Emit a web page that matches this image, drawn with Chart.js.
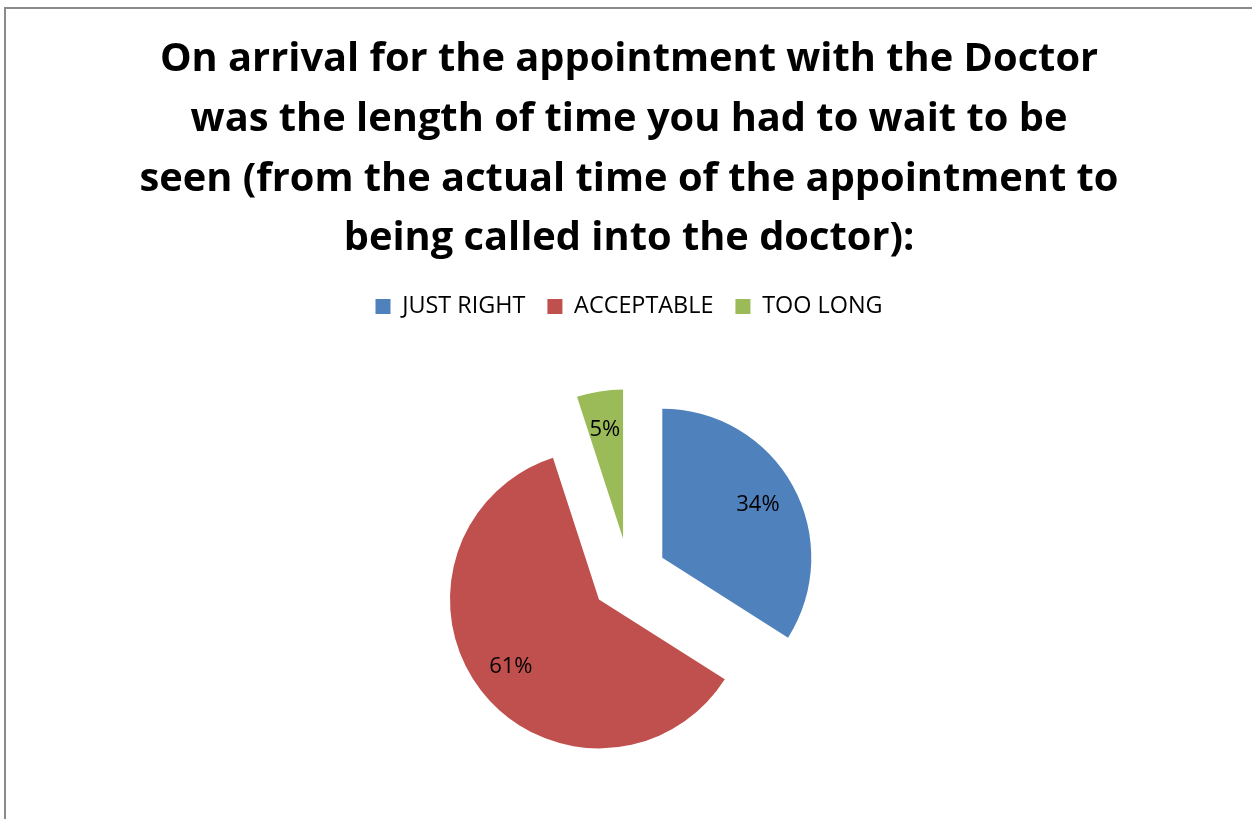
<!DOCTYPE html>
<html>
<head>
<meta charset="utf-8">
<script src="https://cdn.jsdelivr.net/npm/chart.js@4"></script>
<style>
  html, body { margin: 0; padding: 0; background: #fff; }
  #wrap { position: relative; width: 1252px; height: 819px; overflow: hidden; }
  #frame {
    position: absolute; left: 4px; top: 7px; right: -10px; bottom: -10px;
    border-left: 2px solid #8a8a8a; border-top: 2px solid #8a8a8a;
    pointer-events: none;
  }
  canvas { position: absolute; left: 0; top: 0; }
</style>
</head>
<body>
<div id="wrap">
  <!-- plot runs a little past the visible bottom edge so the pie sits lower -->
  <canvas id="waitChart" width="1252" height="824"></canvas>
  <div id="frame"></div>
</div>
<script>
  const categories = ["JUST RIGHT", "ACCEPTABLE", "TOO LONG"];
  const shares = [34, 61, 5];
  const sliceColors = ["#4F81BD", "#C0504D", "#9BBB59"];
  const titleLines = [
    "On arrival for the appointment with the Doctor",
    "was the length of time you had to wait to be",
    "seen (from the actual time of the appointment to",
    "being called into the doctor):"
  ];

  const FONT = "'Open Sans', Lato, sans-serif";
  const EXPLODE = 38;

  // pulls every slice outward along its middle angle
  const explodePlugin = {
    id: "explode",
    beforeDatasetDraw(chart, args) {
      const ctx = chart.ctx;
      args.meta.data.forEach(arc => {
        const mid = (arc.startAngle + arc.endAngle) / 2;
        ctx.save();
        ctx.translate(Math.cos(mid) * EXPLODE, Math.sin(mid) * EXPLODE);
        arc.draw(ctx);
        ctx.restore();
      });
      return false;
    }
  };

  // percentage labels inside each slice
  const percentLabels = {
    id: "percentLabels",
    afterDatasetsDraw(chart) {
      const ctx = chart.ctx;
      const meta = chart.getDatasetMeta(0);
      const values = chart.data.datasets[0].data;
      ctx.save();
      ctx.font = "22px " + FONT;
      ctx.fillStyle = "#000";
      ctx.textAlign = "center";
      ctx.textBaseline = "middle";
      meta.data.forEach((arc, i) => {
        const mid = (arc.startAngle + arc.endAngle) / 2;
        const r = EXPLODE + arc.outerRadius * 0.74;
        ctx.fillText(values[i] + "%", arc.x + Math.cos(mid) * r - 1, arc.y + Math.sin(mid) * r);
      });
      ctx.restore();
    }
  };

  new Chart(document.getElementById("waitChart").getContext("2d"), {
    type: "pie",
    data: {
      labels: categories,
      datasets: [{
        data: shares,
        backgroundColor: sliceColors,
        borderWidth: 0,
        radius: 149
      }]
    },
    options: {
      responsive: false,
      animation: false,
      layout: { padding: { left: 6, top: 0, bottom: 0 } },
      plugins: {
        tooltip: { enabled: false },
        title: {
          display: true,
          text: titleLines,
          color: "#000",
          font: { family: FONT, size: 39.8, weight: "bold", lineHeight: 1.5 },
          padding: { top: 30, bottom: 4 }
        },
        legend: {
          position: "top",
          labels: {
            color: "#000",
            font: { family: FONT, size: 23.4 },
            boxWidth: 15,
            boxHeight: 15,
            padding: 22
          }
        }
      }
    },
    plugins: [explodePlugin, percentLabels]
  });
</script>
</body>
</html>
